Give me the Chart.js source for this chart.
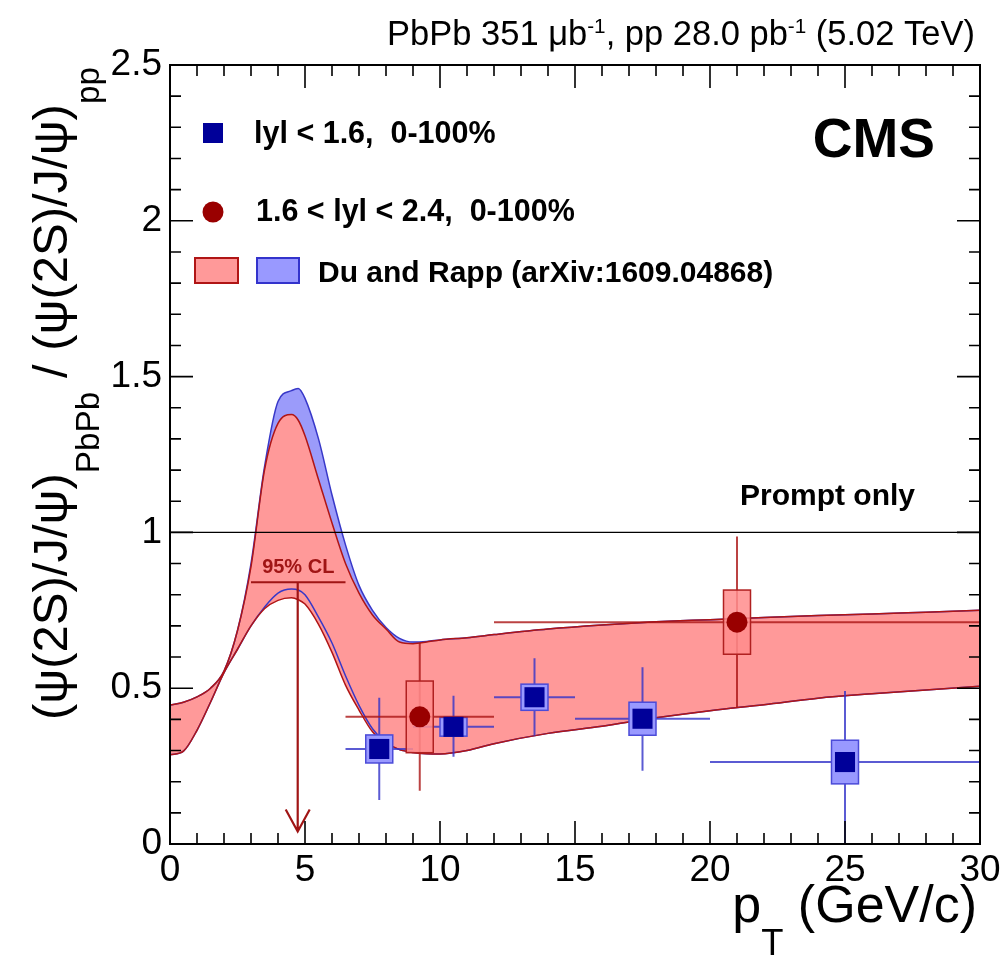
<!DOCTYPE html>
<html>
<head>
<meta charset="utf-8">
<script src="https://cdn.jsdelivr.net/npm/chart.js@4.4.1/dist/chart.umd.min.js"></script>
<style>
  html, body { margin: 0; padding: 0; background: #fff; }
  #wrap { width: 1006px; height: 961px; }
</style>
</head>
<body>
<div id="wrap"><canvas id="ratioChart" width="1006" height="961"></canvas></div>
<script>
// theory band (Du and Rapp)
const curveX = [0, 0.5, 1, 1.5, 2, 2.5, 3, 3.5, 4, 4.5, 4.75, 5, 5.5, 6, 6.5, 7, 7.5, 8, 8.5, 9, 9.5, 10, 11, 12, 14, 16, 18, 20, 22, 24, 26, 28, 30];
const redUpper = [0.446, 0.455, 0.472, 0.50, 0.555, 0.685, 0.89, 1.20, 1.35, 1.378, 1.36, 1.31, 1.17, 1.03, 0.90, 0.805, 0.735, 0.69, 0.648, 0.643, 0.648, 0.655, 0.662, 0.672, 0.69, 0.703, 0.713, 0.72, 0.727, 0.733, 0.738, 0.744, 0.75];
const redLower = [0.286, 0.298, 0.365, 0.455, 0.55, 0.625, 0.70, 0.755, 0.782, 0.79, 0.784, 0.77, 0.705, 0.615, 0.51, 0.43, 0.36, 0.325, 0.303, 0.294, 0.29, 0.289, 0.30, 0.322, 0.355, 0.378, 0.405, 0.428, 0.447, 0.468, 0.482, 0.494, 0.506];
const blueUpper = [0.446, 0.455, 0.472, 0.50, 0.555, 0.685, 0.90, 1.21, 1.42, 1.455, 1.462, 1.43, 1.30, 1.12, 0.96, 0.83, 0.75, 0.695, 0.66, 0.648, 0.65, 0.655, 0.662, 0.672, 0.69, 0.703, 0.713, 0.72, 0.727, 0.733, 0.738, 0.744, 0.75];
const blueLower = [0.286, 0.298, 0.365, 0.455, 0.55, 0.625, 0.70, 0.76, 0.805, 0.818, 0.815, 0.80, 0.728, 0.645, 0.54, 0.445, 0.37, 0.325, 0.303, 0.294, 0.29, 0.289, 0.30, 0.322, 0.355, 0.378, 0.405, 0.428, 0.447, 0.468, 0.482, 0.494, 0.506];

// |y| < 1.6
const midX = [7.75, 10.5, 13.5, 17.5, 25];
const midY = [0.305, 0.376, 0.471, 0.402, 0.263];
const midXLo = [6.5, 9, 12, 15, 20];
const midXHi = [9, 12, 15, 20, 30];
const midYLo = [0.141, 0.280, 0.347, 0.235, 0.0];
const midYHi = [0.469, 0.476, 0.596, 0.567, 0.491];
const midSys = [0.045, 0.03, 0.042, 0.053, 0.07];

// 1.6 < |y| < 2.4
const fwdX = [9.25, 21.0];
const fwdY = [0.408, 0.712];
const fwdXLo = [6.5, 12];
const fwdXHi = [12, 30];
const fwdYLo = [0.171, 0.439];
const fwdYHi = [0.646, 0.987];
const fwdSys = [0.115, 0.103];

// 95% CL upper limit, 3 < pT < 6.5
const limitX = 4.73;
const limitBin = [3, 6.5];
const limitY = 0.84;
const limitEnd = 0.04;

const xTickLabels = [0, 5, 10, 15, 20, 25, 30];
const yTickLabels = [0, 0.5, 1, 1.5, 2, 2.5];

const FONT = '"Liberation Sans", Arial, Helvetica, sans-serif';
const boxHalfWidth = 0.5;

function pts(xs, ys) {
    return xs.map((x, i) => ({ x: x, y: ys[i] }));
}

function drawRich(ctx, parts, x, y, size, align) {
    // parts: [text, kind, scale, weight, shift] with kind '' / 'sub' / 'sup'
    const widths = parts.map(p => {
        const s = p[1] ? size * p[2] : size;
        ctx.font = (p[3] || '') + s + 'px ' + FONT;
        return ctx.measureText(p[0]).width;
    });
    const total = widths.reduce((a, b) => a + b, 0);
    let cx = align === 'right' ? x - total : x;
    parts.forEach((p, i) => {
        const s = p[1] ? size * p[2] : size;
        ctx.font = (p[3] || '') + s + 'px ' + FONT;
        let dy = 0;
        if (p[1] === 'sub') dy = p[4];
        if (p[1] === 'sup') dy = -p[4];
        ctx.fillText(p[0], cx, y + dy);
        cx += widths[i];
    });
}

const decor = {
    id: 'decor',
    beforeDraw(chart) {
        const c = chart.ctx;
        c.save();
        c.fillStyle = '#fff';
        c.fillRect(0, 0, chart.width, chart.height);
        c.restore();
    },
    afterDatasetDraw(chart, args) {
        if (args.index !== 2) return;
        const c = chart.ctx;
        const xs = chart.scales.x, ys = chart.scales.y;
        const a = chart.chartArea;
        c.save();
        c.beginPath();
        c.rect(a.left, a.top, a.right - a.left, a.bottom - a.top);
        c.clip();

        // reference line at 1
        c.strokeStyle = '#000';
        c.lineWidth = 1.2;
        c.beginPath();
        c.moveTo(xs.getPixelForValue(0), ys.getPixelForValue(1));
        c.lineTo(xs.getPixelForValue(30), ys.getPixelForValue(1));
        c.stroke();

        const drawSet = (X, Y, XLo, XHi, YLo, YHi, Sys, fill, edge, bar) => {
            for (let i = 0; i < X.length; i++) {
                const px = xs.getPixelForValue(X[i]);
                const py = ys.getPixelForValue(Y[i]);
                c.strokeStyle = bar;
                c.lineWidth = 2;
                c.beginPath();
                c.moveTo(xs.getPixelForValue(XLo[i]), py);
                c.lineTo(xs.getPixelForValue(XHi[i]), py);
                c.moveTo(px, ys.getPixelForValue(YLo[i]));
                c.lineTo(px, ys.getPixelForValue(YHi[i]));
                c.stroke();
                const bx0 = xs.getPixelForValue(X[i] - boxHalfWidth);
                const bx1 = xs.getPixelForValue(X[i] + boxHalfWidth);
                const by0 = ys.getPixelForValue(Y[i] + Sys[i]);
                const by1 = ys.getPixelForValue(Y[i] - Sys[i]);
                c.fillStyle = fill;
                c.fillRect(bx0, by0, bx1 - bx0, by1 - by0);
                c.strokeStyle = edge;
                c.lineWidth = 1.5;
                c.strokeRect(bx0, by0, bx1 - bx0, by1 - by0);
            }
        };
        drawSet(midX, midY, midXLo, midXHi, midYLo, midYHi, midSys, '#9999ff', '#4b4bd8', 'rgba(50,50,200,0.8)');
        drawSet(fwdX, fwdY, fwdXLo, fwdXHi, fwdYLo, fwdYHi, fwdSys, 'rgba(255,140,140,0.85)', '#b02020', 'rgba(170,20,20,0.8)');
        c.restore();
    },
    afterDraw(chart) {
        const c = chart.ctx;
        const xs = chart.scales.x, ys = chart.scales.y;
        const a = chart.chartArea;
        c.save();

        // 95% CL limit
        const lx = xs.getPixelForValue(limitX);
        const ly = ys.getPixelForValue(limitY);
        const le = ys.getPixelForValue(limitEnd);
        c.strokeStyle = '#a01515';
        c.lineWidth = 2.2;
        c.beginPath();
        c.moveTo(xs.getPixelForValue(limitBin[0]), ly);
        c.lineTo(xs.getPixelForValue(limitBin[1]), ly);
        c.moveTo(lx, ly);
        c.lineTo(lx, le);
        c.moveTo(lx - 12, le - 22);
        c.lineTo(lx, le);
        c.lineTo(lx + 12, le - 22);
        c.stroke();
        c.fillStyle = '#a01515';
        c.font = 'bold 20px ' + FONT;
        c.textAlign = 'center';
        c.textBaseline = 'alphabetic';
        c.fillText('95% CL', (xs.getPixelForValue(limitBin[0]) + xs.getPixelForValue(limitBin[1])) / 2, ly - 9);

        // frame and ticks
        c.strokeStyle = '#000';
        c.lineWidth = 2;
        c.strokeRect(a.left, a.top, a.right - a.left, a.bottom - a.top);
        c.lineWidth = 1.6;
        c.beginPath();
        for (let v = 0; v <= 30; v++) {
            const px = xs.getPixelForValue(v);
            const len = v % 5 === 0 ? 23 : 11;
            c.moveTo(px, a.bottom); c.lineTo(px, a.bottom - len);
            c.moveTo(px, a.top); c.lineTo(px, a.top + len);
        }
        for (let k = 0; k <= 25; k++) {
            const py = ys.getPixelForValue(k / 10);
            const len = k % 5 === 0 ? 23 : 11;
            c.moveTo(a.left, py); c.lineTo(a.left + len, py);
            c.moveTo(a.right, py); c.lineTo(a.right - len, py);
        }
        c.stroke();

        // texts
        c.fillStyle = '#000';
        c.textAlign = 'left';
        drawRich(c, [['PbPb 351 \u03bcb'], ['-1', 'sup', 0.6, '', 12], [', pp 28.0 pb'], ['-1', 'sup', 0.6, '', 12], [' (5.02 TeV)']], 975, 45, 34.5, 'right');
        c.font = 'bold 55px ' + FONT;
        c.textAlign = 'right';
        c.fillText('CMS', 935, 157);
        c.textAlign = 'left';
        c.font = 'bold 30px ' + FONT;
        c.fillText('Prompt only', 740, 505);

        // legend
        c.fillStyle = '#000099';
        c.fillRect(203, 123, 20, 20);
        c.fillStyle = '#990000';
        c.beginPath();
        c.arc(213, 212, 10.5, 0, Math.PI * 2);
        c.fill();
        c.fillStyle = '#ff9999';
        c.fillRect(195, 258, 43, 25);
        c.strokeStyle = '#b01515';
        c.lineWidth = 2;
        c.strokeRect(195, 258, 43, 25);
        c.fillStyle = '#9999ff';
        c.fillRect(257, 258, 42, 25);
        c.strokeStyle = '#3333cc';
        c.strokeRect(257, 258, 42, 25);
        c.fillStyle = '#000';
        c.font = 'bold 30.5px ' + FONT;
        c.fillText('lyl < 1.6,  0-100%', 254, 143);
        c.fillText('1.6 < lyl < 2.4,  0-100%', 256, 221);
        c.font = 'bold 30px ' + FONT;
        c.fillText('Du and Rapp (arXiv:1609.04868)', 318, 282);

        // x title
        drawRich(c, [['p'], ['T', 'sub', 0.7, '', 33], [' (GeV/c)']], 977, 922, 52, 'right');

        // y title, rotated
        c.translate(67, 720);
        c.rotate(-Math.PI / 2);
        drawRich(c, [['(\u03c8(2S)/J/\u03c8)'], ['PbPb', 'sub', 0.68, '', 32], [' / (\u03c8(2S)/J/\u03c8)'], ['pp', 'sub', 0.68, '', 32]], 0, 0, 49, 'left');
        c.restore();
    }
};

const ctx = document.getElementById('ratioChart').getContext('2d');
const ratioChart = new Chart(ctx, {
    type: 'scatter',
    data: {
        datasets: [
            {
                label: '1.6 < |y| < 2.4, 0-100%',
                data: pts(fwdX, fwdY),
                pointStyle: 'circle',
                pointRadius: 10.5,
                pointBackgroundColor: '#990000',
                pointBorderWidth: 0,
            },
            {
                label: '|y| < 1.6, 0-100%',
                data: pts(midX, midY),
                pointStyle: 'rect',
                pointRadius: 14.2,
                pointBackgroundColor: '#000099',
                pointBorderWidth: 0,
            },
            {
                label: 'Du and Rapp lower (fwd)',
                data: pts(curveX, redLower),
                showLine: true,
                pointRadius: 0,
                borderColor: '#b01515',
                borderWidth: 1.5,
                cubicInterpolationMode: 'monotone',
                fill: false,
            },
            {
                label: 'Du and Rapp (fwd)',
                data: pts(curveX, redUpper),
                showLine: true,
                pointRadius: 0,
                borderColor: '#b01515',
                borderWidth: 1.5,
                backgroundColor: '#ff9999',
                cubicInterpolationMode: 'monotone',
                fill: '-1',
            },
            {
                label: 'Du and Rapp lower (mid)',
                data: pts(curveX, blueLower),
                showLine: true,
                pointRadius: 0,
                borderColor: '#3838c8',
                borderWidth: 1.5,
                cubicInterpolationMode: 'monotone',
                fill: false,
            },
            {
                label: 'Du and Rapp (mid)',
                data: pts(curveX, blueUpper),
                showLine: true,
                pointRadius: 0,
                borderColor: '#3838c8',
                borderWidth: 1.5,
                backgroundColor: '#9b9bfa',
                cubicInterpolationMode: 'monotone',
                fill: '-1',
            },
        ],
    },
    options: {
        responsive: false,
        animation: false,
        devicePixelRatio: 1,
        layout: { padding: { top: 65, right: 26, bottom: 0, left: 0 } },
        plugins: {
            legend: { display: false },
            tooltip: { enabled: false },
            filler: { drawTime: 'beforeDatasetsDraw' },
        },
        scales: {
            x: {
                type: 'linear',
                min: 0,
                max: 30,
                grid: { display: false, drawTicks: false },
                border: { display: false },
                afterFit: (s) => { s.height = 117; },
                ticks: {
                    stepSize: 1,
                    autoSkip: false,
                    maxRotation: 0,
                    padding: 5,
                    color: '#000',
                    font: { family: FONT, size: 37 },
                    callback: (v) => xTickLabels.includes(v) ? String(v) : '',
                },
            },
            y: {
                type: 'linear',
                min: 0,
                max: 2.5,
                grid: { display: false, drawTicks: false },
                border: { display: false },
                afterFit: (s) => { s.width = 170; },
                ticks: {
                    stepSize: 0.1,
                    autoSkip: false,
                    padding: 8,
                    color: '#000',
                    font: { family: FONT, size: 37 },
                    callback: (v) => {
                        const r = Math.round(v * 10) / 10;
                        return yTickLabels.includes(r) ? String(r) : '';
                    },
                },
            },
        },
    },
    plugins: [decor],
});
</script>
</body>
</html>
